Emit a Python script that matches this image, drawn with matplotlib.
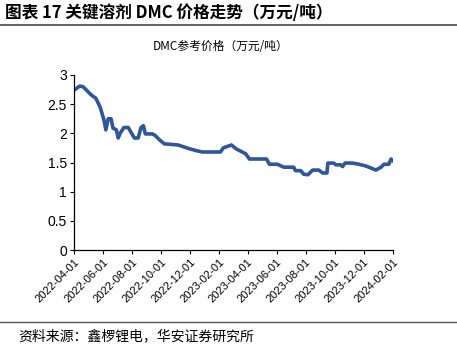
import matplotlib
matplotlib.use("Agg")
import matplotlib.pyplot as plt
import matplotlib.dates as mdates
import pandas as pd
from matplotlib.lines import Line2D

plt.rcParams['font.family'] = ['Noto Sans CJK SC', 'DejaVu Sans']

dates = ["2022-04-01", "2022-04-13", "2022-04-20", "2022-05-07", "2022-05-17", "2022-05-26",
         "2022-06-03", "2022-06-07", "2022-06-12", "2022-06-18", "2022-06-22", "2022-06-29",
         "2022-07-03", "2022-07-07", "2022-07-15", "2022-07-24", "2022-08-06", "2022-08-14",
         "2022-08-20", "2022-08-25", "2022-08-29", "2022-09-13", "2022-09-19", "2022-09-29",
         "2022-10-08", "2022-11-06", "2022-11-17", "2022-12-02", "2022-12-16", "2022-12-27",
         "2023-02-03", "2023-02-09", "2023-02-26", "2023-03-09", "2023-03-28", "2023-04-05",
         "2023-05-11", "2023-05-17", "2023-06-03", "2023-06-16", "2023-07-07", "2023-07-11",
         "2023-07-22", "2023-07-28", "2023-08-06", "2023-08-16", "2023-08-29", "2023-09-06",
         "2023-09-15", "2023-09-17", "2023-09-29", "2023-10-04", "2023-10-14", "2023-10-18",
         "2023-10-23", "2023-11-08", "2023-11-21", "2023-12-06", "2023-12-21", "2023-12-27",
         "2024-01-07", "2024-01-13", "2024-01-23", "2024-01-28", "2024-02-01"]
prices = [2.74, 2.81, 2.80, 2.66, 2.60, 2.45,
          2.23, 2.06, 2.25, 2.25, 2.09, 2.06,
          1.92, 2.00, 2.10, 2.10, 1.92, 1.92,
          2.10, 2.13, 1.99, 1.99, 1.96, 1.88,
          1.82, 1.80, 1.77, 1.73, 1.70, 1.68,
          1.68, 1.75, 1.80, 1.73, 1.65, 1.56,
          1.56, 1.47, 1.47, 1.42, 1.42, 1.36,
          1.36, 1.30, 1.29, 1.37, 1.37, 1.32,
          1.32, 1.49, 1.49, 1.46, 1.46, 1.43,
          1.49, 1.49, 1.47, 1.44, 1.39, 1.37,
          1.42, 1.47, 1.47, 1.56, 1.53]
tick_labels = ["2022-04-01", "2022-06-01", "2022-08-01", "2022-10-01", "2022-12-01", "2023-02-01",
               "2023-04-01", "2023-06-01", "2023-08-01", "2023-10-01", "2023-12-01", "2024-02-01"]
y_ticks = [0, 0.5, 1, 1.5, 2, 2.5, 3]
y_tick_labels = ["0", "0.5", "1", "1.5", "2", "2.5", "3"]

x = pd.to_datetime(dates)
xt = pd.to_datetime(tick_labels)

fig = plt.figure(figsize=(4.57, 3.46), dpi=100)
ax = fig.add_axes([74/457, 1-250/346, (393-74)/457, (250-75)/346])
ax.plot(x, prices, color='#2F559A', lw=2.6, solid_joinstyle='round')
ax.set_xlim(xt[0], xt[-1])
ax.set_ylim(0, 3)
ax.set_yticks(y_ticks)
ax.set_yticklabels(y_tick_labels, fontsize=10, family=['Liberation Sans', 'DejaVu Sans'])
ax.set_xticks(xt)
ax.set_xticklabels(tick_labels, rotation=45, ha='right', rotation_mode='anchor', fontsize=8,
                   family=['Liberation Sans', 'DejaVu Sans'])
for s in ['top', 'right']:
    ax.spines[s].set_visible(False)
for s in ['left', 'bottom']:
    ax.spines[s].set_linewidth(0.9)
    ax.spines[s].set_color('black')
ax.tick_params(axis='both', direction='out', length=3, width=0.8, pad=2)

fig.text(5/457, 1-13/346, "图表 17 关键溶剂 DMC 价格走势（万元/吨）", fontsize=12, fontweight='bold',
         va='center', ha='left')
fig.add_artist(Line2D([0, 1], [1-25/346, 1-25/346], color='#555555', lw=1.3))
fig.text(221/457, 1-47/346, "DMC参考价格（万元/吨）", fontsize=8.5, va='center', ha='center')
fig.add_artist(Line2D([0, 1], [1-322/346, 1-322/346], color='#555555', lw=1.0))
fig.text(18/457, 1-336/346, "资料来源：鑫椤锂电，华安证券研究所", fontsize=10, va='center', ha='left')

fig.savefig("out.png", dpi=100)
